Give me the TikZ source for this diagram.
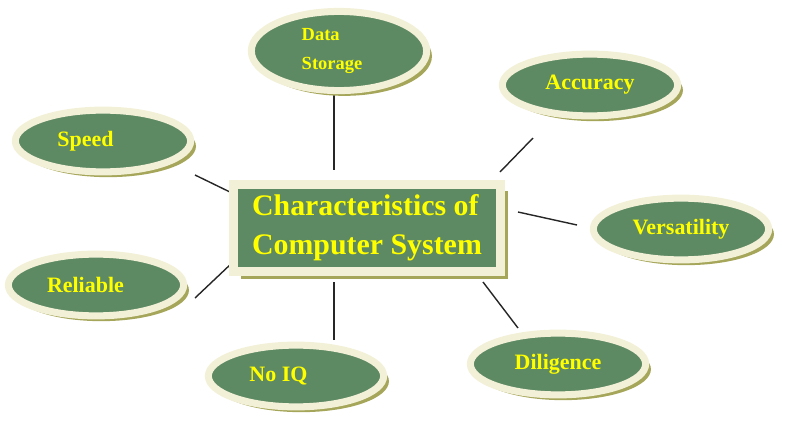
\documentclass[tikz,border=0pt]{standalone}
\usepackage{fontspec}
\setmainfont{Liberation Serif}
\usetikzlibrary{shapes.geometric,shadows}
\definecolor{leaf}{HTML}{5E8A63}
\definecolor{cream}{HTML}{F3F0D8}
\definecolor{olive}{HTML}{A5A65A}
\definecolor{lemon}{HTML}{FFFF00}
\tikzset{
  trait/.style={ellipse, fill=leaf, draw=cream, line width=4pt,
    minimum width=176\pxu, minimum height=62\pxu, text=lemon,
    font=\bfseries\fontsize{12.5}{14}\selectfont,
    drop shadow={fill=olive, opacity=1, shadow xshift=3pt, shadow yshift=-3pt}},
  hub/.style={rectangle, fill=leaf, draw=cream, line width=5pt,
    minimum width=268\pxu, minimum height=88\pxu, text=lemon, align=left,
    font=\bfseries\fontsize{17}{22}\selectfont,
    drop shadow={fill=olive, opacity=1, shadow xshift=4pt, shadow yshift=-4pt}},
  link/.style={draw=black!85, line width=0.8pt}
}
\newlength{\pxu}\setlength{\pxu}{0.567pt}
\begin{document}
\begin{tikzpicture}[x=0.02cm, y=-0.02cm]
\useasboundingbox (0,0) rectangle (789,433);
% connectors first
\coordinate (ds-end) at (334,170);
\coordinate (ac-end) at (500,172);
\coordinate (sp-end) at (232,193);
\coordinate (ve-end) at (518,212);
\coordinate (re-end) at (232,263);
\coordinate (iq-end) at (334,282);
\coordinate (di-end) at (483,282);
\coordinate (ds-start) at (334,88);
\coordinate (ac-start) at (533,138);
\coordinate (sp-start) at (195,175);
\coordinate (ve-start) at (577,225);
\coordinate (re-start) at (195,298);
\coordinate (iq-start) at (334,340);
\coordinate (di-start) at (518,328);
\foreach \n in {ds,ac,sp,ve,re,iq,di}
  \draw [link] (\n-start) -- (\n-end);
% centre box
\node [hub] (core) at (367,228) {Characteristics of\\Computer System};
% traits
\node [trait, align=left, font=\bfseries\fontsize{10.5}{16}\selectfont] (store) at (339,51) {Data\\Storage\hspace*{8pt}};
\node [trait] (accuracy) at (590,85) {Accuracy};
\node [trait] (speed) at (103,141) {Speed\hspace*{20pt}};
\node [trait] (versatility) at (681,229) {Versatility};
\node [trait] (reliable) at (96,285) {Reliable\hspace*{12pt}};
\node [trait] (noiq) at (296,376) {No IQ\hspace*{20pt}};
\node [trait] (diligence) at (558,364) {Diligence};
\end{tikzpicture}
\end{document}
